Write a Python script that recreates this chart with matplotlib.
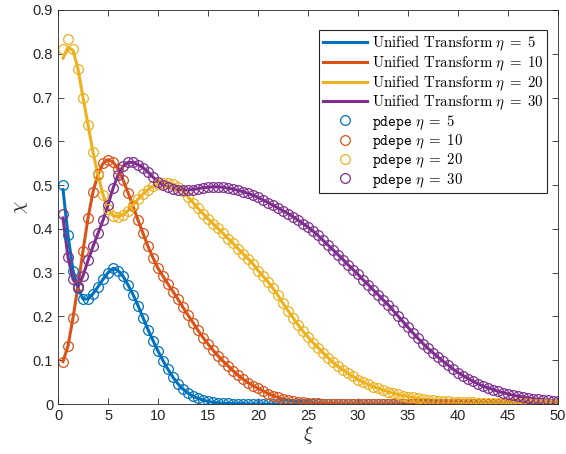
import numpy as np
import matplotlib
matplotlib.use("Agg")
import matplotlib.pyplot as plt
from matplotlib.ticker import FuncFormatter

plt.rcParams['font.family'] = ['Liberation Sans', 'DejaVu Sans']
plt.rcParams['mathtext.fontset'] = 'cm'

# grid of xi values (pdepe output points)
xi = np.arange(0.5, 50.01, 0.5)

chi5 = [0.50, 0.385, 0.305, 0.265, 0.24, 0.24, 0.252, 0.268, 0.285, 0.30,
        0.31, 0.305, 0.292, 0.272, 0.25, 0.225, 0.197, 0.17, 0.145, 0.121,
        0.099, 0.079, 0.061, 0.046, 0.034, 0.025, 0.018, 0.013, 0.009, 0.006,
        0.004, 0.003, 0.002, 0.002, 0.001, 0.001, 0.001, 0.0, 0.0, 0.0,
        0.0, 0.0, 0.0, 0.0, 0.0, 0.0, 0.0, 0.0, 0.0, 0.0,
        0.0, 0.0, 0.0, 0.0, 0.0, 0.0, 0.0, 0.0, 0.0, 0.0,
        0.0, 0.0, 0.0, 0.0, 0.0, 0.0, 0.0, 0.0, 0.0, 0.0,
        0.0, 0.0, 0.0, 0.0, 0.0, 0.0, 0.0, 0.0, 0.0, 0.0,
        0.0, 0.0, 0.0, 0.0, 0.0, 0.0, 0.0, 0.0, 0.0, 0.0,
        0.0, 0.0, 0.0, 0.0, 0.0, 0.0, 0.0, 0.0, 0.0, 0.0]

chi10 = [0.097, 0.133, 0.197, 0.27, 0.35, 0.425, 0.485, 0.525, 0.55, 0.558,
         0.553, 0.537, 0.512, 0.483, 0.452, 0.42, 0.39, 0.36, 0.334, 0.31,
         0.292, 0.274, 0.257, 0.239, 0.221, 0.203, 0.186, 0.168, 0.152, 0.137,
         0.123, 0.11, 0.098, 0.087, 0.076, 0.066, 0.057, 0.049, 0.042, 0.036,
         0.03, 0.024, 0.019, 0.015, 0.012, 0.009, 0.007, 0.005, 0.004, 0.003,
         0.002, 0.002, 0.001, 0.001, 0.001, 0.001, 0.0, 0.0, 0.0, 0.0,
         0.0, 0.0, 0.0, 0.0, 0.0, 0.0, 0.0, 0.0, 0.0, 0.0,
         0.0, 0.0, 0.0, 0.0, 0.0, 0.0, 0.0, 0.0, 0.0, 0.0,
         0.0, 0.0, 0.0, 0.0, 0.0, 0.0, 0.0, 0.0, 0.0, 0.0,
         0.0, 0.0, 0.0, 0.0, 0.0, 0.0, 0.0, 0.0, 0.0, 0.0]

chi20 = [0.812, 0.833, 0.812, 0.765, 0.70, 0.638, 0.575, 0.523, 0.478, 0.445,
         0.43, 0.428, 0.432, 0.442, 0.455, 0.468, 0.48, 0.49, 0.498, 0.503,
         0.505, 0.505, 0.502, 0.495, 0.486, 0.473, 0.46, 0.447, 0.435, 0.423,
         0.412, 0.401, 0.39, 0.378, 0.367, 0.355, 0.343, 0.332, 0.32, 0.305,
         0.292, 0.279, 0.264, 0.248, 0.23, 0.213, 0.197, 0.181, 0.166, 0.153,
         0.14, 0.129, 0.117, 0.106, 0.095, 0.086, 0.078, 0.07, 0.063, 0.056,
         0.05, 0.045, 0.04, 0.036, 0.032, 0.028, 0.025, 0.022, 0.019, 0.017,
         0.015, 0.013, 0.011, 0.01, 0.009, 0.008, 0.007, 0.006, 0.005, 0.005,
         0.004, 0.004, 0.004, 0.003, 0.003, 0.003, 0.003, 0.002, 0.002, 0.002,
         0.002, 0.002, 0.002, 0.002, 0.001, 0.001, 0.001, 0.001, 0.001, 0.001]

chi30 = [0.435, 0.335, 0.285, 0.268, 0.293, 0.328, 0.36, 0.39, 0.42, 0.455,
         0.493, 0.523, 0.543, 0.552, 0.552, 0.547, 0.54, 0.53, 0.518, 0.508,
         0.5, 0.495, 0.492, 0.49, 0.489, 0.489, 0.49, 0.492, 0.494, 0.495,
         0.496, 0.496, 0.495, 0.493, 0.491, 0.488, 0.485, 0.481, 0.477, 0.472,
         0.466, 0.46, 0.454, 0.448, 0.441, 0.435, 0.428, 0.42, 0.412, 0.404,
         0.395, 0.385, 0.374, 0.363, 0.352, 0.341, 0.33, 0.318, 0.307, 0.296,
         0.284, 0.273, 0.261, 0.25, 0.238, 0.227, 0.214, 0.201, 0.188, 0.175,
         0.162, 0.15, 0.138, 0.127, 0.117, 0.107, 0.098, 0.089, 0.08, 0.072,
         0.065, 0.058, 0.052, 0.046, 0.041, 0.037, 0.033, 0.029, 0.026, 0.023,
         0.02, 0.018, 0.016, 0.014, 0.012, 0.011, 0.01, 0.009, 0.008, 0.007]

# unified transform curves differ from pdepe only at the first few points
ut5_head = [0.49]
ut20_head = [0.79, 0.815, 0.808]
ut30_head = [0.425]

etas = [5, 10, 20, 30]
colors = ['#0072BD', '#D95319', '#EDB120', '#7E2F8E']
pdepe = [chi5, chi10, chi20, chi30]
heads = [ut5_head, [], ut20_head, ut30_head]

fig = plt.figure(figsize=(5.66, 4.54), dpi=100)
ax = fig.add_axes([0.1025, 0.110, 0.8835, 0.868])

for eta, c, y, h in zip(etas, colors, pdepe, heads):
    yl = list(h) + list(y[len(h):])
    ax.plot(xi, yl, color=c, lw=2.2,
            label=r'$\mathrm{Unified\ Transform}\ \eta\;=\;%d$' % eta)
for eta, c, y in zip(etas, colors, pdepe):
    ax.plot(xi, y, 'o', color=c, mfc='none', ms=7, mew=0.9,
            label=r'$\mathtt{pdepe}\ \eta\;=\;%d$' % eta)

ax.set_xlim(0, 50)
ax.set_ylim(0, 0.9)
ax.set_xticks(np.arange(0, 51, 5))
ax.set_yticks(np.arange(0, 0.91, 0.1))
ax.yaxis.set_major_formatter(FuncFormatter(lambda v, p: '0' if abs(v) < 1e-9 else ('%.1f' % v)))
ax.tick_params(direction='in', top=True, right=True, labelsize=10.5,
               colors='#262626', length=4, width=0.6)
for s in ax.spines.values():
    s.set_color('#262626')
    s.set_linewidth(0.6)

ax.set_xlabel(r'$\xi$', fontsize=14, color='#262626', labelpad=1)
ax.set_ylabel(r'$\chi$', fontsize=14, color='#262626', labelpad=2)

leg = ax.legend(loc='upper right', bbox_to_anchor=(0.978, 0.949), borderaxespad=0,
                fontsize=10.7, fancybox=False, edgecolor='#262626', framealpha=1,
                handlelength=3.0, handletextpad=0.3, labelspacing=0.02,
                borderpad=0.25)
leg.get_frame().set_linewidth(0.8)

fig.savefig('out.png', dpi=100)
